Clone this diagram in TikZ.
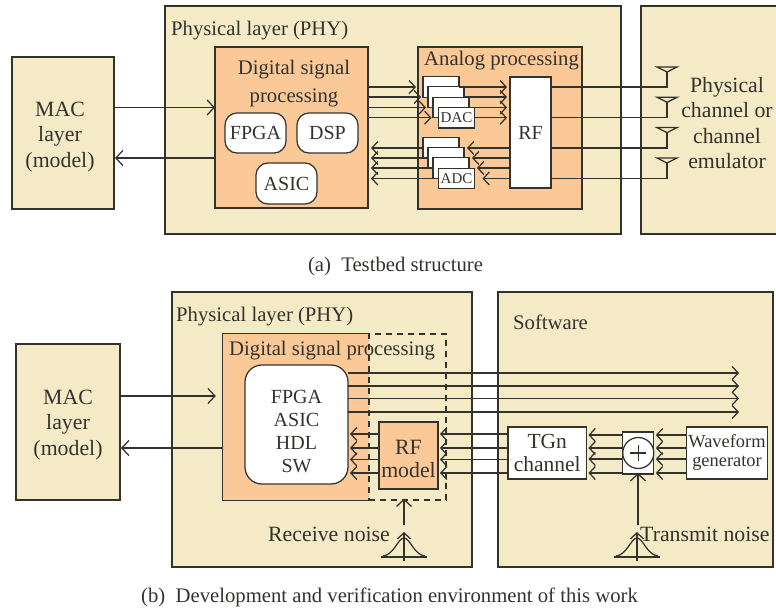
\documentclass[tikz,border=0pt]{standalone}
\usepackage{fontspec}
\setmainfont{Liberation Serif}
\usetikzlibrary{arrows.meta,calc}
\definecolor{cream}{HTML}{F5EAC6}
\definecolor{peach}{HTML}{FBC997}
\definecolor{ink}{HTML}{33332E}
\tikzset{
  base/.style={draw=ink,line width=1.25pt,inner sep=0pt,outer sep=0pt,text=ink,align=center},
  creambox/.style={base,fill=cream},
  peachbox/.style={base,fill=peach},
  whitebox/.style={base,fill=white},
  roundbox/.style={base,fill=white,rounded corners=12pt},
  txt/.style={inner sep=0pt,text=ink,font=\fontsize{20.7}{24.5}\selectfont,align=center},
  bigtxt/.style={txt,font=\fontsize{21.8}{25.2}\selectfont},
  ltxt/.style={txt,anchor=base west},
  ctxt/.style={txt,anchor=base},
  conn/.style={draw=ink,line width=1.25pt},
  stub/.style={conn,-{Straight Barb[length=6pt,width=13pt,line width=1.25pt]}},
  bigarrow/.style={conn,-{Straight Barb[length=7pt,width=15pt,line width=1.25pt]}},
  noisepic/.pic={
    \draw[conn] (-23,0) -- (23,0);
    \draw[conn] (-21,-1) .. controls (-10,-2) and (-6,-19) .. (0,-19) .. controls (6,-19) and (10,-2) .. (21,-1);
    \draw[stub] (0,4) -- (0,-25);
  }
}
\begin{document}
\begin{tikzpicture}[x=1pt,y=-1pt]
\useasboundingbox (0,0) rectangle (776,608);
% ---------- (a) ----------
\node[creambox,minimum width=102pt,minimum height=152pt] (maca) at (63,133) {};
\node[creambox,minimum width=456pt,minimum height=228pt] (phya) at (393,120) {};
\node[creambox,minimum width=140pt,minimum height=228pt] (chan) at (711,120) {};
\node[peachbox,minimum width=153pt,minimum height=161pt] (dspa) at (291.5,127.5) {};
\node[peachbox,minimum width=164pt,minimum height=162pt] (anlg) at (500,128) {};
\node[roundbox,minimum width=61pt,minimum height=40pt,font=\fontsize{20}{24}\selectfont] (fpga) at (255.5,133) {FPGA};
\node[roundbox,minimum width=61pt,minimum height=40pt,font=\fontsize{20}{24}\selectfont] (dspb) at (327.5,133) {DSP};
\node[roundbox,minimum width=61pt,minimum height=41pt,font=\fontsize{20}{24}\selectfont] (asic) at (286.5,183.5) {ASIC};
\foreach \i/\xx/\yy in {1/441/87,2/446/97,3/451/107.5}
  \node[whitebox,minimum width=36pt,minimum height=20.5pt] (dac\i) at (\xx,\yy) {};
\node[whitebox,minimum width=36pt,minimum height=20.5pt,font=\fontsize{15}{18}\selectfont] (dac4) at (456.5,117.7) {DAC};
\foreach \i/\xx/\yy in {1/441/148,2/446/158,3/451/168}
  \node[whitebox,minimum width=36pt,minimum height=20.5pt] (adc\i) at (\xx,\yy) {};
\node[whitebox,minimum width=36pt,minimum height=20.5pt,font=\fontsize{15}{18}\selectfont] (adc4) at (456.5,178.5) {ADC};
\node[whitebox,minimum width=41pt,minimum height=111pt,font=\fontsize{20}{24}\selectfont] (rf) at (530.5,132.5) {RF};
\node[ltxt] (tphya) at (171,35) {Physical layer (PHY)};
\node[ctxt] (tdsp1) at (294,74) {Digital signal};
\node[ctxt] (tdsp2) at (294,102) {processing};
\node[ltxt] (tanlg) at (424,65) {Analog processing};
\node[bigtxt] (tmaca) at (60,137) {MAC\\layer\\(model)};
\node[bigtxt] (tchan) at (727,123) {Physical\\channel or\\channel\\emulator};
\node[ctxt] (capa) at (395.5,271) {(a)\ \ Testbed structure};
% MAC <-> DSP
\coordinate (mai) at (0,107.5);
\coordinate (mao) at (0,158);
\draw[bigarrow] (maca.east |- mai) -- (dspa.west |- mai);
\draw[bigarrow,shorten >=1pt] (dspa.west |- mao) -- (maca.east |- mao);
% DAC/ADC connectors
\foreach \i in {1,...,4}{
  \draw[stub,shorten >=7pt] (dspa.east |- dac\i.west) -- (dac\i.west);
  \draw[stub,shorten >=3pt] (dac\i.east) -- (rf.west |- dac\i.east);
  \draw[stub,shorten >=8pt] (rf.west |- adc\i.east) -- (adc\i.east);
  \draw[stub,shorten >=3pt] (adc\i.west) -- (dspa.east |- adc\i.west);
}
% antennas
\foreach \i/\yy/\from in {1/72/dac1,2/102.3/dac4,3/132.6/adc1,4/163/adc4}{
  \coordinate (ant\i) at (667,\yy);
  \draw[conn] (ant\i) +(-10,-5) -- +(10,-5) -- (ant\i) -- cycle;
  \draw[conn] (rf.east |- \from.east) -| (ant\i);
}
% ---------- (b) ----------
\node[creambox,minimum width=104pt,minimum height=156pt] (macb) at (68,422) {};
\node[creambox,minimum width=300pt,minimum height=275pt] (phyb) at (322,429.5) {};
\node[creambox,minimum width=275pt,minimum height=275pt] (soft) at (635.5,429.5) {};
\node[fill=peach,inner sep=0pt,minimum width=146pt,minimum height=166pt] (dspc) at (296,417) {};
\draw[conn] (dspc.north east) -- (dspc.north west) -- (dspc.south west) -- (dspc.south east);
\node[ltxt] (tdspc) at (229,355) {Digital signal processing};
\node[draw=ink,line width=1.25pt,dash pattern=on 6pt off 5pt,inner sep=0pt,minimum width=77pt,minimum height=166pt] (dash) at (407.5,417) {};
\node[base,fill=white,rounded corners=17pt,minimum width=103pt,minimum height=119pt] (hw) at (296.5,424.5) {};
\node[txt,font=\fontsize{20}{22.9}\selectfont] (thw) at (296.5,431.5) {FPGA\\ASIC\\HDL\\SW};
\node[peachbox,minimum width=59pt,minimum height=67pt] (rfm) at (408.5,455.5) {};
\node[bigtxt,font=\fontsize{21.8}{23}\selectfont] (trfm) at (408.5,458.5) {RF\\model};
\node[whitebox,minimum width=78.5pt,minimum height=52pt,font=\fontsize{21.5}{23}\selectfont] (tgn) at (547.2,453) {TGn\\channel};
\node[whitebox,minimum width=31pt,minimum height=42pt] (sumb) at (638.3,453) {};
\node[base,fill=white,circle,minimum size=31pt] (sumc) at (638.3,453) {};
\draw[conn] (sumc.center) +(-8,0) -- +(8,0) (sumc.center) +(0,-8) -- +(0,8);
\node[whitebox,minimum width=81pt,minimum height=52pt,font=\fontsize{18.4}{19}\selectfont] (wave) at (727,453) {Waveform\\generator};
\node[ltxt] (tphyb) at (176,321) {Physical layer (PHY)};
\node[ltxt] (tsoft) at (513,329) {Software};
\node[bigtxt] (tmacb) at (68,425) {MAC\\layer\\(model)};
\node[bigtxt,anchor=base west] (trx) at (268,541) {Receive noise};
\node[bigtxt,anchor=base west] (ttx) at (640,541) {Transmit noise};
\node[ctxt] (capb) at (389.5,602) {(b)\ \ Development and verification environment of this work};
% MAC <-> hw
\coordinate (mbi) at (0,396);
\coordinate (mbo) at (0,448);
\draw[bigarrow,shorten >=7pt] (macb.east |- mbi) -- (dspc.west |- mbi);
\draw[bigarrow,shorten >=1pt] (dspc.west |- mbo) -- (macb.east |- mbo);
% long lines
\coordinate (lend) at (739,0);
\foreach \yy in {373,386,398.5,412}
  \draw[stub] (hw.east |- 0,\yy) -- (lend |- 0,\yy);
% receive chain
\foreach \yy in {434,448,459.5,473}{
  \draw[stub,shorten >=2pt] (rfm.west |- 0,\yy) -- (hw.east |- 0,\yy);
  \draw[stub,shorten >=2pt] (tgn.west |- 0,\yy) -- (rfm.east |- 0,\yy);
}
\foreach \yy in {435,448,459,473}{
  \draw[stub,shorten >=2pt] (sumb.west |- 0,\yy) -- (tgn.east |- 0,\yy);
  \draw[stub,shorten >=2pt] (wave.west |- 0,\yy) -- (sumb.east |- 0,\yy);
}
% noise
\pic (rxsym) at (404,557) {noisepic};
\pic (txsym) at (637,557) {noisepic};
\coordinate (rxn) at (404,525);
\coordinate (txn) at (638,525);
\draw[bigarrow,shorten >=-2pt] (rxn) -- (dash.south -| rxn);
\draw[bigarrow,shorten >=-1pt] (txn) -- (sumb.south -| txn);
\end{tikzpicture}
\end{document}
